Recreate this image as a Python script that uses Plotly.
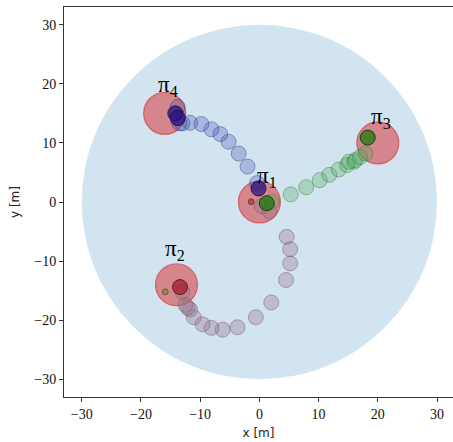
import plotly.graph_objects as go

# ---- data ----
arena_radius = 30
target_names = ["π<sub>1</sub>", "π<sub>2</sub>", "π<sub>3</sub>", "π<sub>4</sub>"]
target_x = [0, -14, 20, -16]
target_y = [0, -14, 10, 15]

# blue agent (pi1 -> pi4)
blue_x = [-0.4, -2.0, -3.5, -5.2, -6.6, -8.1, -9.8, -11.7, -13.0, -13.5, -13.9, -13.8]
blue_y = [3.2, 6.0, 8.2, 10.2, 11.5, 12.3, 13.2, 13.4, 13.3, 13.3, 14.7, 16.1]
blue_end_x = [-0.15, -14.2, -13.8]
blue_end_y = [2.3, 15.0, 14.2]

# green agent (pi1 -> pi3)
green_x = [2.1, 5.3, 7.9, 10.2, 11.8, 13.4, 14.8, 15.1, 16.0, 16.2, 17.0, 17.9]
green_y = [0.05, 1.3, 2.5, 3.7, 4.6, 5.5, 6.25, 6.8, 6.8, 7.1, 7.6, 8.2]
green_end_x = [1.25, 18.3]
green_end_y = [-0.2, 10.9]

# mauve agent (pi1 -> pi2)
mauve_x = [0.4, 1.7, 4.6, 5.2, 5.2, 4.5, 2.0, -0.6, -3.7, -6.2, -8.1, -9.6, -11.1, -11.7, -12.1, -12.5, -13.0]
mauve_y = [-0.7, -1.6, -5.9, -8.0, -10.4, -13.2, -17.0, -19.5, -21.2, -21.6, -21.3, -20.7, -19.5, -18.2, -17.9, -17.4, -15.2]
mauve_end_x = [-13.4]
mauve_end_y = [-14.4]

# small markers
dot_x = [-1.4, -15.9]
dot_y = [0.05, -15.2]
dot_colors = ["rgba(150,40,40,0.6)", "rgba(120,140,40,0.75)"]

label_dx = [1.3, -0.2, 0.6, 0.5]
label_dy = [4.3, 5.8, 4.3, 4.7]

fig = go.Figure()

# arena
fig.add_shape(type="circle", xref="x", yref="y",
              x0=-arena_radius, y0=-arena_radius, x1=arena_radius, y1=arena_radius,
              fillcolor="rgba(31,119,180,0.2)", line=dict(width=0), layer="below")

# targets
fig.add_trace(go.Scatter(x=target_x, y=target_y, mode="markers",
                         marker=dict(size=42, color="rgba(214,39,40,0.5)",
                                     line=dict(color="rgba(214,39,40,0.6)", width=1.2)),
                         hoverinfo="skip"))

def traj(xs, ys, fill, edge, size=15):
    fig.add_trace(go.Scatter(x=xs, y=ys, mode="markers",
                             marker=dict(size=size, color=fill, line=dict(color=edge, width=1)),
                             hoverinfo="skip"))

traj(mauve_x, mauve_y, "rgba(150,115,140,0.35)", "rgba(110,80,105,0.45)")
traj(green_x, green_y, "rgba(80,170,90,0.3)", "rgba(50,120,60,0.45)")
traj(blue_x, blue_y, "rgba(70,80,180,0.3)", "rgba(50,55,140,0.45)")

traj(mauve_end_x, mauve_end_y, "rgba(160,20,35,0.7)", "rgba(90,10,20,0.8)")
traj(green_end_x, green_end_y, "rgba(40,120,20,0.8)", "rgba(20,60,10,0.9)")
traj(blue_end_x, blue_end_y, "rgba(45,20,130,0.75)", "rgba(25,10,80,0.85)")

fig.add_trace(go.Scatter(x=dot_x, y=dot_y, mode="markers",
                         marker=dict(size=6, color=dot_colors,
                                     line=dict(color="rgba(60,40,20,0.6)", width=0.8)),
                         hoverinfo="skip"))

for name, tx, ty, dx, dy in zip(target_names, target_x, target_y, label_dx, label_dy):
    fig.add_annotation(x=tx + dx, y=ty + dy, text=name, showarrow=False,
                       font=dict(family="Liberation Serif", size=23, color="black"))

axis_common = dict(
    dtick=10, tick0=0, ticks="outside", ticklen=4, tickwidth=1, tickcolor="#333",
    showgrid=False, zeroline=False, showline=True, linecolor="#333", linewidth=1,
    automargin=False,
    tickfont=dict(family="Liberation Serif", size=14, color="#111"),
)
fig.update_xaxes(range=[-33, 32.7], mirror=True,
                 title=dict(text="x [m]", font=dict(family="DejaVu Sans", size=12, color="#222"), standoff=7),
                 **axis_common)
fig.update_yaxes(range=[-33, 33], mirror=False,
                 title=dict(text="y [m]", font=dict(family="DejaVu Sans", size=12, color="#222"), standoff=12),
                 **axis_common)

fig.update_layout(width=453, height=442, showlegend=False,
                  margin=dict(l=64, r=0, t=7, b=45, autoexpand=False),
                  plot_bgcolor="white", paper_bgcolor="white")

fig.write_html("out.html", config={"displayModeBar": False},
               post_script="document.body.style.margin='0';document.body.style.overflow='hidden';")
